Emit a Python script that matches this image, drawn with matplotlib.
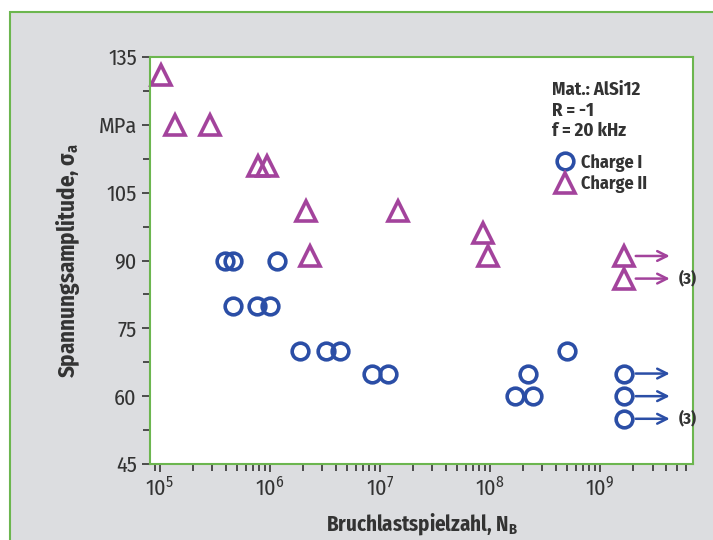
import matplotlib.pyplot as plt
from matplotlib.lines import Line2D
from matplotlib.patches import Rectangle

FONT = 'Fira Sans Condensed'
plt.rcParams['font.family'] = [FONT, 'DejaVu Sans']
plt.rcParams['mathtext.fontset'] = 'custom'
plt.rcParams['mathtext.rm'] = FONT
plt.rcParams['mathtext.bf'] = FONT + ':bold'

BLUE = '#2b4ea6'
PURPLE = '#a3439c'
GREEN = '#6cb64f'
DARK = '#333333'

# Charge I (circles): cycles to failure and stress amplitude in MPa
charge1_n = [3.9e5, 4.6e5, 1.16e6, 4.6e5, 7.6e5, 1.0e6, 1.87e6, 3.2e6, 4.3e6,
             8.5e6, 1.18e7, 1.69e8, 2.46e8, 2.2e8, 5.0e8]
charge1_s = [90, 90, 90, 80, 80, 80, 70, 70, 70, 65, 65, 60, 60, 65, 70]

# Charge II (triangles)
charge2_n = [1.02e5, 1.37e5, 2.85e5, 7.8e5, 9.5e5, 2.13e6, 1.46e7, 2.3e6,
             8.6e7, 9.5e7]
charge2_s = [131, 120, 120, 111, 111, 101, 101, 91, 96, 91]

# run-outs (no failure), drawn with an arrow
runout_n = 1.65e9
runout_end = 4.3e9
runout1_s = [65, 60, 55]
runout2_s = [91, 86]
runout_note = '(3)'

yticks = [45, 60, 75, 90, 105, 120, 135]
yticklabels = ['45', '60', '75', '90', '105', 'MPa', '135']
xticks = [1e5, 1e6, 1e7, 1e8, 1e9]

fig = plt.figure(figsize=(7.13, 5.4), dpi=100)
fig.patch.set_facecolor('white')
fig.patches.append(Rectangle((10 / 713, -0.01), 1.0, (540 - 12) / 540 + 0.01,
                             transform=fig.transFigure, facecolor='#dcdde0',
                             edgecolor=GREEN, linewidth=1.5, zorder=-5))

ax = fig.add_axes([150 / 713, (540 - 464) / 540, 543 / 713, 407 / 540])
ax.set_zorder(1)
ax.set_facecolor('white')
ax.set_xscale('log')
ax.set_xlim(10 ** 4.91, 10 ** 9.845)
ax.set_ylim(45, 135)

mk = dict(linestyle='none', markerfacecolor='none', markeredgewidth=2.6,
          clip_on=False)
ax.plot(charge1_n, charge1_s, marker='o', markersize=12, color=BLUE, **mk)
ax.plot(charge2_n, charge2_s, marker='^', markersize=14, color=PURPLE, **mk)
ax.plot([runout_n] * len(runout1_s), runout1_s, marker='o', markersize=12,
        color=BLUE, **mk)
ax.plot([runout_n] * len(runout2_s), runout2_s, marker='^', markersize=14,
        color=PURPLE, **mk)

for s in runout1_s:
    ax.annotate('', xy=(runout_end, s), xytext=(runout_n * 1.28, s),
                arrowprops=dict(arrowstyle='->,head_length=0.7,head_width=0.35',
                                color=BLUE, lw=1.8, shrinkA=0, shrinkB=0))
for s in runout2_s:
    ax.annotate('', xy=(runout_end, s), xytext=(runout_n * 1.28, s),
                arrowprops=dict(arrowstyle='->,head_length=0.7,head_width=0.35',
                                color=PURPLE, lw=1.8, shrinkA=0, shrinkB=0))
ax.text(runout_end * 1.22, runout2_s[-1], runout_note, fontsize=12,
        fontweight='bold', color=DARK, va='center')
ax.text(runout_end * 1.22, runout1_s[-1], runout_note, fontsize=12,
        fontweight='bold', color=DARK, va='center')

ax.text(0.74, 0.94, 'Mat.: AlSi12\nR = -1\nf = 20 kHz', transform=ax.transAxes,
        fontsize=13.5, fontweight='bold', color=DARK, va='top', linespacing=1.2)

handles = [Line2D([], [], marker='o', markersize=12, color=BLUE, **mk),
           Line2D([], [], marker='^', markersize=14, color=PURPLE, **mk)]
leg = ax.legend(handles, ['Charge I', 'Charge II'], loc='upper left',
                bbox_to_anchor=(0.735, 0.785), frameon=False, handlelength=0.8,
                handletextpad=0.45, labelspacing=0.2, borderpad=0,
                prop=dict(size=13, weight='bold'))
for t in leg.get_texts():
    t.set_color(DARK)

for side in ['left', 'right', 'top', 'bottom']:
    ax.spines[side].set_color(GREEN)
    ax.spines[side].set_linewidth(1.5)

ax.set_yticks(yticks)
ax.set_yticklabels(yticklabels)
ax.set_yticks([52.5, 67.5, 82.5, 97.5, 112.5, 127.5], minor=True)
ax.set_xticks(xticks)
ax.set_xticklabels([r'$10^{%d}$' % k for k in range(5, 10)])
ax.tick_params(axis='both', which='both', direction='out', color=DARK,
               labelcolor=DARK, width=1.2)
ax.tick_params(axis='both', which='major', length=6, labelsize=16)
ax.tick_params(axis='both', which='minor', length=5)
ax.tick_params(axis='x', which='major', pad=3)

ax.set_ylabel(r'Spannungsamplitude, $\mathbf{\sigma_a}$', fontsize=16.5,
              fontweight='bold', color=DARK, labelpad=12)
ax.set_xlabel(r'Bruchlastspielzahl, N$_\mathbf{B}$', fontsize=15,
              fontweight='bold', color=DARK, labelpad=8)

fig.savefig('out.png', dpi=100)
